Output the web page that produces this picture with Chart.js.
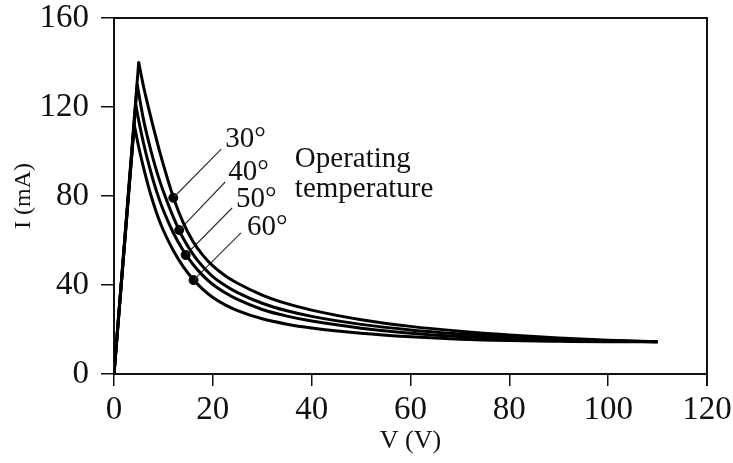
<!DOCTYPE html>
<html><head><meta charset="utf-8">
<script src="https://cdn.jsdelivr.net/npm/chart.js@4"></script>
<style>html,body{margin:0;padding:0;background:#fff}#c{display:block}</style>
</head><body>
<canvas id="c" width="733" height="463"></canvas>
<script>
// ---- data ----
const xTicks = [0, 20, 40, 60, 80, 100, 120];
const yTicks = [0, 40, 80, 120, 160];
const temperatures = ['30°', '40°', '50°', '60°'];

const v30 = [0, 5, 6, 7, 8, 9, 10, 12, 14, 16, 18, 20, 22.5, 25, 30, 35, 40, 50, 60, 70, 80, 90, 100, 110];
const i30 = [0, 140, 129, 119.5, 110.5, 102, 94, 79.5, 68, 59.5, 53.3, 48.6, 44.2, 40.8, 35.5, 31.6, 28.7, 24.4, 21.4, 19.2, 17.5, 16.2, 15.2, 14.5];

const v40 = [0, 4.7, 6, 7, 8, 9, 10, 12, 14, 16, 18, 20, 22.5, 25, 30, 35, 40, 50, 60, 70, 80, 90, 100, 110];
const i40 = [0, 130, 114, 104.5, 96, 88.5, 82, 70.5, 61, 53.8, 48.2, 43.8, 39.8, 36.6, 31.8, 28.4, 25.9, 22.3, 19.8, 18, 16.6, 15.6, 14.9, 14.5];

const v50 = [0, 4.4, 5, 6, 7, 8, 9, 10, 12, 14, 16, 18, 20, 22.5, 25, 30, 35, 40, 50, 60, 70, 80, 90, 100, 110];
const i50 = [0, 121, 114, 103.5, 94.5, 86.5, 79.5, 73.5, 63.5, 55.5, 49.2, 44.2, 40.2, 36.5, 33.5, 29, 26, 23.8, 20.6, 18.3, 16.8, 15.8, 15.1, 14.7, 14.5];

const v60 = [0, 4.1, 5, 6, 7, 8, 9, 10, 12, 14, 16, 18, 20, 22.5, 25, 30, 35, 40, 50, 60, 70, 80, 90, 100, 110];
const i60 = [0, 112, 102, 92.5, 84, 76.5, 70, 64.5, 55.5, 48.3, 42.6, 38, 34.4, 31.1, 28.5, 24.8, 22.4, 20.7, 18.3, 16.7, 15.6, 15, 14.7, 14.5, 14.5];

const dotV = [12.0, 13.2, 14.5, 16.1];
const dotI = [79.2, 64.7, 53.5, 42.2];

// ---- annotation layout (data coordinates) ----
const leaderEnd = [[21.7, 101.1], [22.5, 86.3], [23.9, 74.6], [25.7, 63.4]];
const labelAt = [[22.5, 102], [23.1, 87.2], [24.7, 75.1], [26.9, 62.5]];
const noteAt = [[36.6, 93], [36.6, 79.7]];
const noteText = ['Operating', 'temperature'];

const FONT = '"Liberation Serif", "Times New Roman", serif';
const INK = '#111';

const curves = [[v30, i30], [v40, i40], [v50, i50], [v60, i60]];
const datasets = [];
curves.forEach(([v, i]) => {
  const pts = v.map((x, k) => ({x, y: i[k]}));
  datasets.push({type: 'line', data: pts.slice(0, 2), borderColor: '#000', borderWidth: 3, pointRadius: 0, tension: 0, borderCapStyle: 'round', borderJoinStyle: 'round'});
  datasets.push({type: 'line', data: pts.slice(1), borderColor: '#000', borderWidth: 3, pointRadius: 0, cubicInterpolationMode: 'monotone', borderCapStyle: 'butt', borderJoinStyle: 'round'});
});
dotV.forEach((x, k) => {
  datasets.push({type: 'line', data: [{x, y: dotI[k]}, {x: leaderEnd[k][0], y: leaderEnd[k][1]}], borderColor: '#333', borderWidth: 1.2, pointRadius: 0, tension: 0});
});
datasets.push({type: 'scatter', data: dotV.map((x, k) => ({x, y: dotI[k]})), backgroundColor: '#000', borderColor: '#000', pointRadius: 4.5, pointHoverRadius: 4.5});

const annot = {
  id: 'annot',
  afterDatasetsDraw(chart) {
    const {ctx, scales: {x, y}, chartArea: a} = chart;
    ctx.save();
    ctx.fillStyle = INK;
    ctx.textAlign = 'left';
    ctx.textBaseline = 'alphabetic';
    ctx.font = '29px ' + FONT;
    temperatures.forEach((t, k) => {
      ctx.fillText(t, x.getPixelForValue(labelAt[k][0]), y.getPixelForValue(labelAt[k][1]));
    });
    noteText.forEach((t, k) => {
      ctx.fillText(t, x.getPixelForValue(noteAt[k][0]), y.getPixelForValue(noteAt[k][1]));
    });
    ctx.strokeStyle = INK;
    ctx.lineWidth = 2;
    ctx.beginPath();
    ctx.moveTo(a.left, a.top);
    ctx.lineTo(a.right, a.top);
    ctx.lineTo(a.right, a.bottom + 12);
    ctx.stroke();
    ctx.restore();
  }
};

new Chart(document.getElementById('c'), {
  type: 'line',
  data: {datasets},
  options: {
    responsive: false,
    animation: false,
    events: [],
    layout: {padding: {left: 0, right: 26, top: 18, bottom: 0}},
    plugins: {legend: {display: false}, tooltip: {enabled: false}},
    scales: {
      x: {
        type: 'linear', min: 0, max: 120,
        afterBuildTicks: s => { s.ticks = xTicks.map(value => ({value})); },
        afterFit: s => { s.height = 89; s.paddingLeft = 0; s.paddingRight = 0; },
        grid: {display: true, drawOnChartArea: false, drawTicks: true, tickLength: 12, color: INK, lineWidth: 1.5},
        border: {display: true, color: INK, width: 2},
        ticks: {color: INK, font: {family: FONT, size: 33}, padding: 5, maxRotation: 0},
        title: {display: true, text: 'V (V)', color: INK, font: {family: FONT, size: 26}, padding: {top: 0, bottom: 6}}
      },
      y: {
        type: 'linear', min: 0, max: 160,
        afterBuildTicks: s => { s.ticks = yTicks.map(value => ({value})); },
        afterFit: s => { s.width = 114; s.paddingTop = 0; s.paddingBottom = 0; },
        grid: {display: true, drawOnChartArea: false, drawTicks: true, tickLength: 13, color: INK, lineWidth: 1.5},
        border: {display: true, color: INK, width: 2},
        ticks: {color: INK, font: {family: FONT, size: 33}, padding: 12},
        title: {display: true, text: 'I (mA)', color: INK, font: {family: FONT, size: 24}, padding: {top: 9, bottom: 0}}
      }
    }
  },
  plugins: [annot]
});
</script>
</body></html>
